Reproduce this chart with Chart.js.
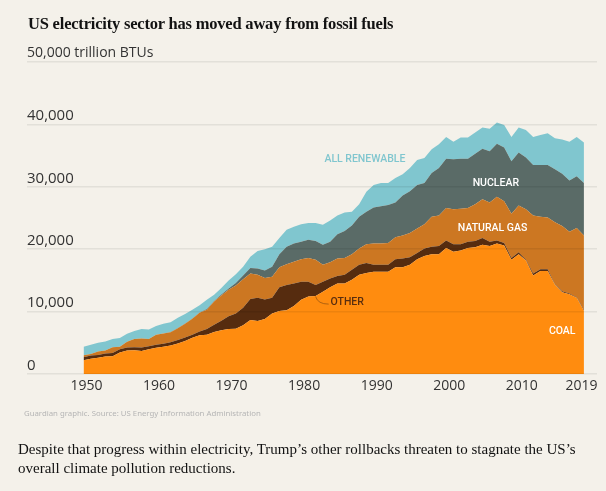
<!DOCTYPE html>
<html>
<head>
<meta charset="utf-8">
<script src="https://cdn.jsdelivr.net/npm/chart.js@4"></script>
<style>
html,body{margin:0;padding:0;background:#f4f1ea;width:606px;height:491px;overflow:hidden}
#wrap{position:relative;width:606px;height:491px}
canvas{position:absolute;left:0;top:0}
.t{position:absolute;white-space:nowrap}
#title{left:28px;top:13px;font:bold 16.5px "Liberation Serif",serif;letter-spacing:-0.2px;color:#121212;line-height:22px}
#source{left:24px;top:407px;font:7.8px "Noto Sans",sans-serif;color:#b5b5b5;line-height:12px}
#caption{left:18px;top:440px;font:15px "Liberation Serif",serif;color:#121212;line-height:19px}
</style>
</head>
<body>
<div id="wrap">
<canvas id="c" width="606" height="491"></canvas>
<div class="t" id="title">US electricity sector has moved away from fossil fuels</div>
<div class="t" id="source">Guardian graphic. Source: US Energy Information Administration</div>
<div class="t" id="caption">Despite that progress within electricity, Trump’s other rollbacks threaten to stagnate the US’s<br>overall climate pollution reductions.</div>
</div>
<script>
const years = Array.from({length:70},(_,i)=>1950+i);
const xTickYears = [1950,1960,1970,1980,1990,2000,2010,2019];
const yTicks = [0,10000,20000,30000,40000,50000];

// Upper edge of each stacked band, trillion BTUs
const coalTop = [2200,2450,2600,2800,2850,3450,3750,3800,3700,3950,
4200,4350,4550,4900,5300,5800,6200,6300,6750,7000,
7200,7250,7800,8650,8500,8800,9700,10100,10200,10900,
11900,12400,12500,13200,13900,14500,14500,15100,15900,16200,
16400,16400,16400,17100,17100,17500,18400,18900,19200,19200,
20200,19600,19800,20200,20300,20700,20500,20900,20600,18300,
19200,18200,15800,16500,16500,14300,13100,12800,12200,10150];
const otherTop = [2700,2950,3050,3300,3350,3950,4250,4300,4250,4450,
4700,4850,5100,5450,5850,6300,6800,7200,7900,8550,
9250,9700,10600,12000,12200,11950,12200,13900,14250,14500,
14800,14800,14250,14800,15300,15700,15900,16700,17500,17800,
17500,17500,17500,18400,18500,18700,19400,20100,20400,20500,
21400,20800,20800,21200,21300,21800,21200,21400,21000,18600,
19500,18300,16100,16800,16800,14400,13250,12900,12300,10300];
const gasTop = [3000,3200,3600,3750,4300,4350,5150,5600,5700,5600,
6300,6500,6700,7350,8050,8850,9800,10300,11600,12600,
13500,14200,15200,16100,15900,15400,15600,17100,17600,18000,
18400,18600,18300,17500,17900,18500,18600,19200,20100,20800,
20900,20900,21000,21900,22200,22600,23300,24000,25200,25400,
26600,26400,26500,26600,27200,28000,27500,28400,27700,25700,
27000,26400,25400,25200,25100,24300,23700,22800,23400,22200];
const nuclearTop = [3000,3200,3600,3750,4300,4350,5150,5600,5700,5600,
6300,6500,6720,7380,8090,8900,9860,10400,11700,12750,
13700,14600,15800,17000,16900,16600,17200,19200,20400,20900,
21200,21500,21300,20700,21200,22400,22900,23800,25200,26000,
26700,26900,27100,27500,28600,29300,30300,30600,32200,33000,
34500,34400,34500,34500,35300,36100,35700,36900,36300,34100,
35500,34700,33500,33500,33500,32800,32100,31000,31700,30600];
const renewableTop = [4350,4700,5000,5200,5600,5750,6450,6900,7200,7150,
7700,8050,8300,9000,9600,10300,11000,11900,12700,13800,
15000,16000,17200,18800,19700,20000,20400,21800,23100,23600,
24000,24200,24200,23900,24600,25400,25900,26000,27200,29200,
30300,30600,30600,31400,32000,33000,34300,34600,36000,36800,
38000,37200,37900,37900,38700,39500,39300,40300,39900,38000,
39500,39100,38000,38300,38600,37800,37600,37200,38000,37100];

const pts = a => a.map((v,i)=>({x:years[i],y:v}));
const band = (label,data,color,fill) => ({label,data:pts(data),backgroundColor:color,borderColor:color,borderWidth:0,pointRadius:0,tension:0,fill});

const notes = [
  {text:'ALL RENEWABLE',x:1988.8,y:34350,color:'#80c6cf',align:'center'},
  {text:'NUCLEAR',x:2006.85,y:30600,color:'#ffffff',align:'center'},
  {text:'NATURAL GAS',x:2006.4,y:23400,color:'#ffffff',align:'center'},
  {text:'COAL',x:2016,y:6900,color:'#ffffff',align:'center'},
  {text:'OTHER',x:1984.05,y:11550,color:'#5a2e0f',align:'left'}
];
const notesPlugin = {
  id:'notes',
  afterDraw(ch){
    const {ctx,scales:{x,y}} = ch;
    ctx.save();
    ctx.strokeStyle='#b0620f';ctx.lineWidth=1;
    ctx.beginPath();
    ctx.moveTo(x.getPixelForValue(1982),y.getPixelForValue(12400));
    ctx.quadraticCurveTo(x.getPixelForValue(1982.3),y.getPixelForValue(11200),x.getPixelForValue(1983.8),y.getPixelForValue(11200));
    ctx.stroke();
    ctx.font='500 10.5px Roboto';ctx.textBaseline='middle';
    notes.forEach(n=>{ctx.fillStyle=n.color;ctx.textAlign=n.align;ctx.fillText(n.text,x.getPixelForValue(n.x),y.getPixelForValue(n.y));});
    ctx.restore();
  }
};

new Chart(document.getElementById('c'),{
  type:'line',
  data:{datasets:[
    band('Coal',coalTop,'#ff8c0f','origin'),
    band('Other',otherTop,'#562c0f','-1'),
    band('Natural gas',gasTop,'#cc7722','-1'),
    band('Nuclear',nuclearTop,'#5a6b67','-1'),
    band('All renewable',renewableTop,'#80c6cf','-1')
  ]},
  options:{
    responsive:false,animation:false,
    layout:{padding:{left:27,right:9,top:62,bottom:97}},
    plugins:{legend:{display:false},tooltip:{enabled:false}},
    elements:{line:{borderWidth:0}},
    scales:{
      x:{type:'linear',min:1942.2,max:2020.8,
        afterBuildTicks:s=>{s.ticks=xTickYears.map(v=>({value:v}));},
        afterFit:s=>{s.height=20;s.paddingLeft=0;s.paddingRight=0;},
        grid:{display:false,drawTicks:false},border:{display:false},
        ticks:{autoSkip:false,maxRotation:0,padding:4,labelOffset:3,color:'#333',font:{family:'Open Sans',size:14},
          callback:v=>v===2019?'2019   ':String(v)}},
      y:{min:0,max:50000,
        afterBuildTicks:s=>{s.ticks=yTicks.map(v=>({value:v}));},
        afterFit:s=>{s.width=0;},
        grid:{color:'rgba(0,0,0,0.07)',lineWidth:1.5,drawTicks:false,z:1},border:{display:false},
        ticks:{mirror:true,padding:0,labelOffset:-8.5,color:'#333',
          font:c=>({family:'Open Sans',size:c.tick&&c.tick.value===50000?14:15}),
          callback:v=>v===50000?'50,000 trillion BTUs':v.toLocaleString('en-US')}}
    }
  },
  plugins:[notesPlugin]
});
</script>
</body>
</html>
